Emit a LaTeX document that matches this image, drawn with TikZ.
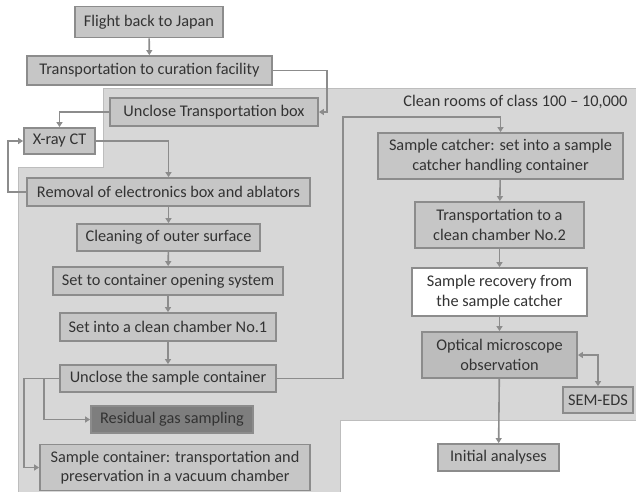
\documentclass[tikz,border=0pt]{standalone}
\usepackage{fontspec}
\setmainfont{Carlito}
\usetikzlibrary{arrows.meta}
\definecolor{boxfill}{HTML}{C6C6C6}
\definecolor{boxline}{HTML}{8C8C8C}
\definecolor{roomfill}{HTML}{D7D7D7}
\definecolor{roomline}{HTML}{BDBDBD}
\definecolor{txt}{HTML}{333333}
\definecolor{optfill}{HTML}{BCBCBC}
\definecolor{darkfill}{HTML}{7E7E7E}
\tikzset{
  stepbox/.style={draw=boxline, line width=1.8pt, fill=boxfill, text=txt,
    align=center, inner sep=0pt, font=\fontsize{16.3}{19.5}\selectfont},
  conn/.style={draw=boxline, line width=1.6pt, -{Triangle[length=5pt,width=6pt]}},
  bconn/.style={draw=boxline, line width=1.6pt, {Triangle[length=5pt,width=6pt]}-{Triangle[length=5pt,width=6pt]}}
}
\begin{document}
\begin{tikzpicture}[x=1pt,y=-1pt]
\useasboundingbox (0,0) rectangle (636,491);
% clean room region
\draw[fill=roomfill, draw=roomline, line width=1pt]
  (103,88) -- (637,88) -- (637,420) -- (340,420) -- (340,492) -- (18,492) -- (18,167) -- (103,167) -- cycle;
\node[anchor=east, text=txt, font=\fontsize{16.3}{19.5}\selectfont] (roomlabel) at (631,102) {Clean rooms of class 100 -- 10,000};

% left column
\node[stepbox, minimum width=148pt, minimum height=31pt] (flight) at (149,22) {Flight back to Japan};
\node[stepbox, minimum width=245pt, minimum height=29pt] (trans) at (149.5,70.5) {Transportation to curation facility};
\node[stepbox, minimum width=208pt, minimum height=28pt] (unbox) at (214,112) {Unclose Transportation box};
\node[stepbox, minimum width=71pt, minimum height=26pt] (xray) at (59.5,141) {X-ray CT};
\node[stepbox, minimum width=283pt, minimum height=28pt] (removal) at (168.5,192) {Removal of electronics box and ablators};
\node[stepbox, minimum width=183pt, minimum height=27pt] (cleaning) at (168.5,237.5) {Cleaning of outer surface};
\node[stepbox, minimum width=230pt, minimum height=28pt] (setcont) at (168,281) {Set to container opening system};
\node[stepbox, minimum width=216pt, minimum height=28pt] (setclean) at (168,327) {Set into a clean chamber No.1};
\node[stepbox, minimum width=216pt, minimum height=27pt] (unsample) at (168,378.5) {Unclose the sample container};
\node[stepbox, fill=darkfill, minimum width=162pt, minimum height=27pt] (residual) at (172,419.5) {Residual gas sampling};
\node[stepbox, minimum width=270pt, minimum height=46pt] (samplecont) at (175,467.5) {Sample container: transportation and\\preservation in a vacuum chamber};

% right column
\node[stepbox, minimum width=245pt, minimum height=46pt] (catcher) at (500.5,156) {Sample catcher: set into a sample\\catcher handling container};
\node[stepbox, minimum width=169pt, minimum height=46pt] (trans2) at (499.5,225) {Transportation to a\\clean chamber No.2};
\node[stepbox, fill=white, minimum width=175pt, minimum height=48pt] (recovery) at (499.5,292) {Sample recovery from\\the sample catcher};
\node[stepbox, fill=optfill, minimum width=155pt, minimum height=46pt] (optical) at (499.5,355) {Optical microscope\\observation};
\node[stepbox, minimum width=70pt, minimum height=26pt] (semeds) at (598,400) {SEM-EDS};
\node[stepbox, minimum width=121pt, minimum height=27pt] (initial) at (498.5,457.5) {Initial analyses};

% connectors
\draw[conn] (flight) -- (trans);
\draw[conn] (trans.east) -- (327,70.5) -- (327,112) -- (unbox.east);
\draw[conn] (unbox.west) -| (xray.north);
\draw[conn] (xray.east) -| (removal.north);
\draw[conn] (removal.west) -- (8,192) -- (8,141) -- (xray.west);
\draw[conn] (removal) -- (cleaning);
\draw[conn] (cleaning) -- (setcont);
\draw[conn] (setcont) -- (setclean);
\draw[conn] (setclean) -- (unsample);
\draw[conn] (unsample.east) -- (343,378.5) -- (343,117) -| (catcher.north);
\draw[conn] (unsample.west) -- (44,378.5) -- (44,419.5) -- (residual.west);
\draw[conn] (unsample.west) -- (24,378.5) -- (24,467.5) -- (samplecont.west);
\draw[conn] (catcher) -- (trans2);
\draw[conn] (trans2) -- (recovery);
\draw[conn] (recovery) -- (optical);
\draw[conn] (optical) -- (initial);
\draw[bconn] (optical.east) -| (semeds.north);
\end{tikzpicture}
\end{document}
